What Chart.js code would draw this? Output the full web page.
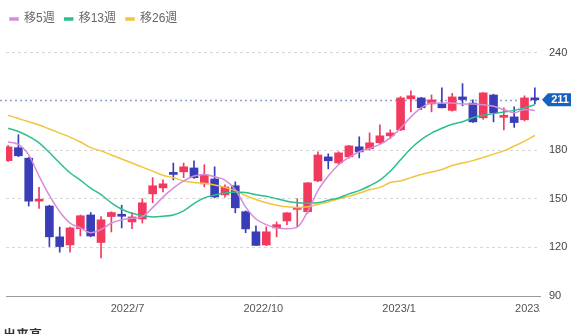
<!DOCTYPE html>
<html lang="ja">
<head>
    <meta charset="UTF-8">
    <title>週足チャート</title>
    <style>
        body { margin: 0; overflow: hidden; background: #fff; }
        #wrap { position: relative; width: 586px; height: 334px; }
        #volume-label {
            position: absolute; left: 3px; top: 324px;
            font: bold 13px 'Noto Sans CJK JP', sans-serif; color: #333;
        }
    </style>
</head>
<body>
    <div id="wrap">
        <canvas id="chart"></canvas>
        <div id="volume-label">出来高</div>
    </div>

    <script src="https://cdn.jsdelivr.net/npm/chart.js"></script>
    <script>
        // weekly candles (index = week)
        const opens  = [173.5, 181.5, 175, 148.5, 145.5, 126.5, 121.5, 131.5, 140, 123, 139, 140, 135.7, 137.5, 153, 156.7, 165.6, 166.6, 169, 159.2, 162.2, 152.4, 158, 142, 129.6, 121.5, 132, 136.3, 143.4, 142, 161, 175.8, 172.1, 175.8, 182, 180.8, 184.5, 188.8, 192.5, 211.6, 212.2, 208.5, 208.5, 204.5, 212.8, 209, 199.9, 214, 200.2, 200.5, 198.7, 212];
        const highs  = [183, 189.5, 175.5, 157, 146, 132.5, 132.5, 140, 141.5, 139, 142, 146, 141.5, 150, 163, 161.6, 172, 172, 173.4, 171, 169.7, 158.5, 160.4, 142.5, 133.3, 132.6, 135.7, 141.5, 150, 160, 179, 177.7, 179, 183, 188.2, 190.6, 195.6, 192.5, 213, 216.6, 212.5, 214, 218.4, 215, 221, 211, 215.5, 214.5, 206, 206.7, 213.5, 218.4];
        const lows   = [173, 176, 145.5, 144, 120.5, 117, 117, 127, 126.5, 113.5, 129.5, 132, 131.5, 135, 147.5, 154.2, 161.6, 163, 162.5, 157.3, 150.5, 151, 141.3, 129, 121, 121, 126.5, 134, 132.6, 141, 160.5, 168.4, 171.5, 175, 175.2, 180, 184, 187, 192, 203.6, 205, 203.6, 206, 204, 207.3, 197, 199, 197.4, 192.5, 194, 198, 208.5];
        const closes = [182, 176.5, 148.5, 149.5, 126.5, 120.5, 132, 139.5, 127, 137, 141.5, 139.2, 138.8, 147.5, 158, 159.2, 165, 169.7, 163, 164.7, 151.1, 157.3, 144.4, 131.4, 121.2, 129.6, 134, 141.3, 143.9, 159.8, 177, 173.4, 178.3, 182.6, 178.9, 184.5, 188.8, 190.6, 212.2, 213.5, 206.1, 211, 206.1, 212.8, 211.2, 197.4, 215.3, 203, 200.8, 197, 212.2, 211];

        // moving averages
        const ma5  = [185, 183.5, 177, 164, 152, 142, 135, 132, 129, 131, 135, 137, 138, 139, 144.5, 151, 156.5, 161, 164, 165, 163.5, 161.5, 155.5, 145, 137.5, 134, 132, 131.5, 132.5, 142, 155, 164, 171, 175.5, 179, 181, 183.5, 187.5, 193.5, 200.5, 206, 209, 209, 209, 208.5, 208.5, 208, 207, 205, 203, 205, 204.5];
        const ma13 = [193.5, 191.5, 188.5, 184.5, 178.5, 172, 166, 161.5, 156.5, 152.5, 147.5, 143.5, 141, 139.5, 138.8, 139.2, 140, 142.5, 147, 150.5, 152.3, 153.5, 154.2, 153.8, 152.5, 151.5, 150, 148.5, 147.5, 147.2, 147.5, 149, 150.5, 153, 155, 158, 161.5, 167, 174, 181, 186.5, 190.5, 193.5, 196, 197.5, 200, 201.5, 202.5, 203.5, 204.5, 206, 208];
        const ma26 = [201.5, 199.5, 197.5, 195.5, 193, 190.5, 188, 185, 181.5, 179.5, 177, 174.5, 172, 169.5, 167, 164.5, 163, 161, 160, 159.5, 158.5, 157, 155, 152, 149.5, 147.5, 146, 145, 144.5, 145, 146.5, 148, 150, 151.5, 153.5, 155.5, 157, 160, 161, 163, 165, 166.5, 168, 170.5, 172, 173.5, 175.5, 177.5, 179.5, 182.5, 185.5, 189];

        const seriesNames = ['移5週', '移13週', '移26週'];
        const yTicks = [90, 120, 150, 180, 240];
        const xTickPos = [11.57, 24.71, 37.86, 50.71];
        const xTickLabels = ['2022/7', '2022/10', '2023/1', '2023/4'];

        const UP = '#f23a5e';
        const DOWN = '#3a3db8';
        const lastPrice = closes[closes.length - 1];

        const pts = arr => arr.map((v, i) => ({ x: i, y: v }));
        const candleColors = closes.map((c, i) => (c >= opens[i] ? UP : DOWN));

        Chart.defaults.font.family = "'Liberation Sans', Arial, 'Noto Sans CJK JP', sans-serif";

        function lineSet(label, data, color) {
            return {
                type: 'line', label, data: pts(data), yAxisID: 'y',
                borderColor: color, backgroundColor: color, borderWidth: 1.5,
                pointRadius: 0, cubicInterpolationMode: 'monotone'
            };
        }

        // dotted line at last close + price tag on the axis
        const lastPricePlugin = {
            id: 'lastPrice',
            beforeDatasetsDraw(chart) {
                const { ctx, chartArea, scales } = chart;
                const py = Math.round(scales.y.getPixelForValue(lastPrice)) + 0.5;
                ctx.save();
                ctx.strokeStyle = '#8ea4cc';
                ctx.lineWidth = 1.5;
                ctx.setLineDash([2, 3]);
                ctx.beginPath();
                ctx.moveTo(chartArea.left - 6, py);
                ctx.lineTo(chartArea.right, py);
                ctx.stroke();
                ctx.restore();
            },
            afterDraw(chart) {
                const { ctx, chartArea, scales } = chart;
                const py = scales.y.getPixelForValue(lastPrice);
                const x0 = chartArea.right + 2;
                ctx.save();
                ctx.fillStyle = '#1662bf';
                ctx.beginPath();
                ctx.moveTo(x0, py);
                ctx.lineTo(x0 + 6, py - 6.5);
                ctx.lineTo(x0 + 29, py - 6.5);
                ctx.lineTo(x0 + 29, py + 6.5);
                ctx.lineTo(x0 + 6, py + 6.5);
                ctx.closePath();
                ctx.fill();
                ctx.fillStyle = '#fff';
                ctx.font = "bold 11px 'Liberation Sans', Arial, sans-serif";
                ctx.textAlign = 'center';
                ctx.textBaseline = 'middle';
                ctx.fillText(String(lastPrice), x0 + 18, py + 0.5);
                ctx.restore();
            }
        };

        // cut the x labels at the right edge of the plot, like the original
        const clipXLabels = {
            id: 'clipXLabels',
            beforeDraw(chart) {
                const sc = chart.scales.x;
                if (sc.__clipped) return;
                const orig = sc.drawLabels;
                sc.drawLabels = function (area) {
                    const c = this.ctx;
                    c.save();
                    c.beginPath();
                    c.rect(0, this.top, chart.chartArea.right, this.height);
                    c.clip();
                    orig.call(this, area);
                    c.restore();
                };
                sc.__clipped = true;
            }
        };

        new Chart(document.getElementById('chart'), {
            data: {
                datasets: [
                    lineSet(seriesNames[0], ma5, '#d58ddb'),
                    lineSet(seriesNames[1], ma13, '#2dbf8c'),
                    lineSet(seriesNames[2], ma26, '#f2c43c'),
                    {
                        type: 'bar', label: 'body', yAxisID: 'y',
                        data: opens.map((o, i) => ({ x: i, y: [o, closes[i]] })),
                        backgroundColor: candleColors, barThickness: 8,
                        minBarLength: 2, grouped: false
                    },
                    {
                        type: 'bar', label: 'wick', yAxisID: 'y',
                        data: lows.map((l, i) => ({ x: i, y: [l, highs[i]] })),
                        backgroundColor: candleColors, barThickness: 1,
                        grouped: false
                    }
                ]
            },
            options: {
                responsive: true,
                maintainAspectRatio: false,
                animation: false,
                layout: { padding: { top: 3, left: 0, right: 0, bottom: 0 } },
                plugins: {
                    tooltip: { enabled: false },
                    legend: {
                        position: 'top',
                        align: 'start',
                        labels: {
                            boxWidth: 8, boxHeight: 2, padding: 10,
                            color: '#666', font: { size: 12 },
                            filter: item => seriesNames.includes(item.text)
                        }
                    }
                },
                scales: {
                    x: {
                        type: 'linear',
                        min: -0.2,
                        max: 51.5,
                        offset: false,
                        grid: { display: false, drawTicks: false, offset: false },
                        border: { display: true, color: '#9a9a9a', width: 1 },
                        afterBuildTicks: s => { s.ticks = xTickPos.map(v => ({ value: v })); },
                        afterFit: s => { s.height = 38; },
                        ticks: {
                            autoSkip: false, maxRotation: 0, padding: 6,
                            color: '#555', font: { size: 11 },
                            callback: (v, i) => xTickLabels[i]
                        }
                    },
                    y: {
                        position: 'right',
                        min: 90,
                        max: 251,
                        grid: { color: '#d6d6d6', drawTicks: false },
                        border: { display: false, dash: [3, 3] },
                        afterBuildTicks: s => { s.ticks = yTicks.map(v => ({ value: v })); },
                        afterFit: s => { s.width = 46; },
                        ticks: { padding: 9, color: '#444', font: { size: 11 } }
                    },
                    // small empty gutter on the left
                    yPad: {
                        position: 'left',
                        grid: { display: false },
                        border: { display: false },
                        ticks: { display: false },
                        afterFit: s => { s.width = 6; }
                    }
                }
            },
            plugins: [lastPricePlugin, clipXLabels]
        });
    </script>
</body>
</html>
